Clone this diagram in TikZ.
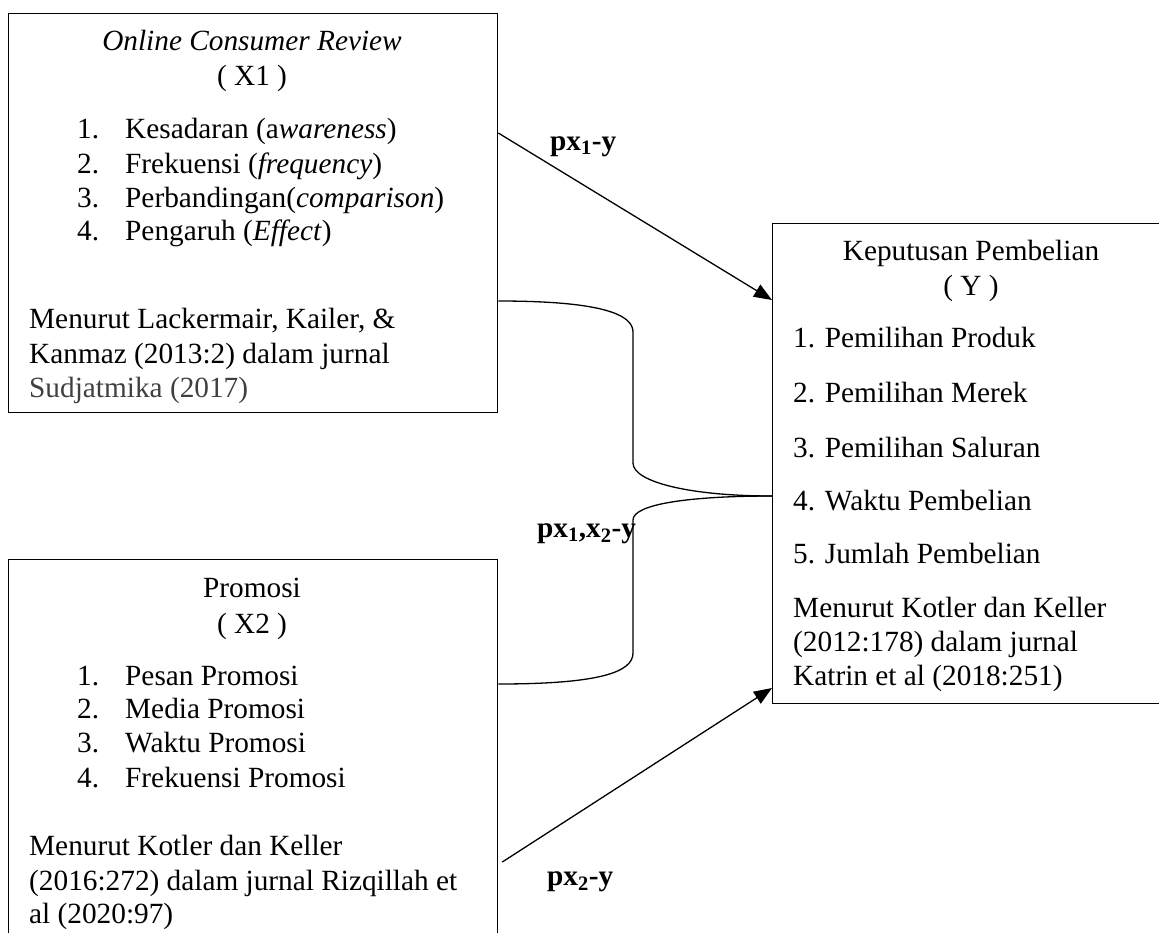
\documentclass[tikz,border=0pt]{standalone}
\usepackage{fontspec}
\setmainfont{Liberation Serif}
\usetikzlibrary{arrows.meta}
\begin{document}
\begin{tikzpicture}[x=1pt,y=-1pt,
  box/.style={draw, line width=1.3pt, anchor=north west, inner sep=0pt},
  txt/.style={font=\fontsize{29.3}{34}\selectfont, inner sep=0pt, anchor=base west},
  ctr/.style={font=\fontsize{29.3}{34}\selectfont, inner sep=0pt, anchor=base},
  lbl/.style={font=\fontsize{29.3}{34}\selectfont\bfseries, inner sep=0pt, anchor=base west},
  con/.style={line width=1.3pt},
  arr/.style={con, -{Triangle[length=18pt,width=14pt]}}]
\useasboundingbox (0,0) rectangle (1159,932);
\clip (0,0) rectangle (1159,932);
% boxes
\node[box, minimum width=489pt, minimum height=399pt] (x1) at (8,13) {};
\node[box, minimum width=489pt, minimum height=420pt] (x2) at (8,559) {};
\node[box, minimum width=420pt, minimum height=480pt] (y) at (772,223) {};
% X1 texts
\node[ctr] (x1t) at (252,50) {\textit{Online Consumer Review}};
\node[ctr] (x1s) at (252,85) {( X1 )};
\node[txt] (x1n1) at (77,138) {1.};
\node[txt] (x1i1) at (125,138) {Kesadaran (a\textit{wareness})};
\node[txt] (x1n2) at (77,173) {2.};
\node[txt] (x1i2) at (125,173) {Frekuensi (\textit{frequency})};
\node[txt] (x1n3) at (77,207) {3.};
\node[txt] (x1i3) at (125,207) {Perbandingan(\textit{comparison})};
\node[txt] (x1n4) at (77,240) {4.};
\node[txt] (x1i4) at (125,240) {Pengaruh (\textit{Effect})};
\node[txt] (x1r1) at (29,328) {Menurut Lackermair, Kailer, \&};
\node[txt] (x1r2) at (29,363) {Kanmaz (2013:2) dalam jurnal};
\node[txt, text=black!75] (x1r3) at (29,397) {Sudjatmika (2017)};
% X2 texts
\node[ctr] (x2t) at (252,597) {Promosi};
\node[ctr] (x2s) at (252,633) {( X2 )};
\node[txt] (x2n1) at (77,685) {1.};
\node[txt] (x2i1) at (125,685) {Pesan Promosi};
\node[txt] (x2n2) at (77,718) {2.};
\node[txt] (x2i2) at (125,718) {Media Promosi};
\node[txt] (x2n3) at (77,752) {3.};
\node[txt] (x2i3) at (125,752) {Waktu Promosi};
\node[txt] (x2n4) at (77,787) {4.};
\node[txt] (x2i4) at (125,787) {Frekuensi Promosi};
\node[txt] (x2r1) at (29,855) {Menurut Kotler dan Keller};
\node[txt] (x2r2) at (29,890) {(2016:272) dalam jurnal Rizqillah et};
\node[txt] (x2r3) at (29,923) {al (2020:97)};
% Y texts
\node[ctr] (yt) at (971,260) {Keputusan Pembelian};
\node[ctr] (ys) at (971,295) {( Y )};
\node[txt] (yi1) at (793,347) {1. Pemilihan Produk};
\node[txt] (yi2) at (793,402) {2. Pemilihan Merek};
\node[txt] (yi3) at (793,457) {3. Pemilihan Saluran};
\node[txt] (yi4) at (793,510) {4. Waktu Pembelian};
\node[txt] (yi5) at (793,563) {5. Jumlah Pembelian};
\node[txt] (yr1) at (793,617) {Menurut Kotler dan Keller};
\node[txt] (yr2) at (793,651) {(2012:178) dalam jurnal};
\node[txt] (yr3) at (793,685) {Katrin et al (2018:251)};
% connectors
\draw[arr] (x1.east |- 0,133) -- (y.west |- 0,300);
\draw[arr] (x2.east |- 0,862) ++(4,0) -- (y.west |- 0,688);
\coordinate (m) at (633,496);
\draw[con] (x1.east |- 0,301) .. controls (600,301) and (633,314) .. (633,332)
  -- (633,463) .. controls (633,482) and (690,496) .. (y.west |- m);
\draw[con] (y.west |- m) .. controls (690,496) and (633,504) .. (633,520)
  -- (633,653) .. controls (633,672) and (600,684) .. (x2.east |- 0,684);
% labels
\node[lbl] (l1) at (550,150) {px\textsubscript{1}-y};
\node[lbl] (l12) at (537,537) {px\textsubscript{1},x\textsubscript{2}-y};
\node[lbl] (l2) at (547,885) {px\textsubscript{2}-y};
\end{tikzpicture}
\end{document}
